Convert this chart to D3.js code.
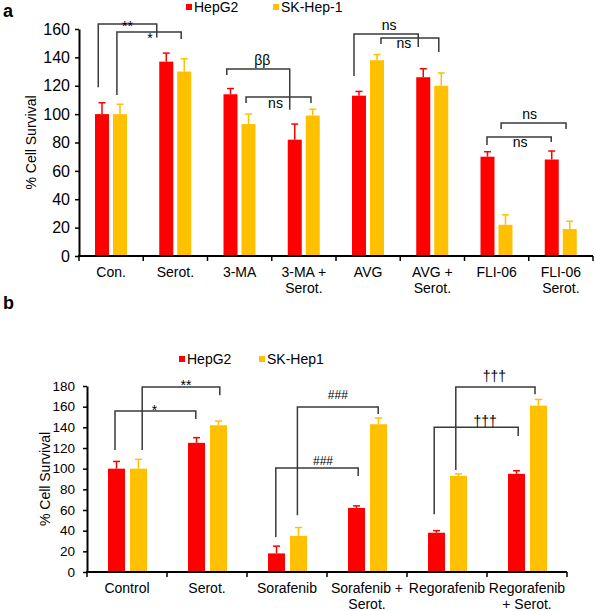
<!DOCTYPE html>
<html><head><meta charset="utf-8">
<script src="https://cdn.jsdelivr.net/npm/d3@7/dist/d3.min.js"></script>
<style>body{margin:0;background:#fff} text{font-family:"Liberation Sans",Arial,sans-serif;fill:#000}</style>
</head><body><svg id="c" width="596" height="611"></svg>
<script>
// ---------- data ----------
const colors = ["#ff0000", "#ffc000"];

// Panel a
const seriesA = ["HepG2", "SK-Hep-1"];
const catsA = ["Con.", "Serot.", "3-MA", "3-MA + Serot.", "AVG", "AVG + Serot.", "FLI-06", "FLI-06 Serot."];
const labelsA = [["Con."], ["Serot."], ["3-MA"], ["3-MA +", "Serot."], ["AVG"], ["AVG +", "Serot."], ["FLI-06"], ["FLI-06", "Serot."]];
const hepA = [100, 137, 114, 82, 113, 126, 70, 68];
const hepErrA = [8, 6, 4, 11, 3, 6, 3.5, 6];
const skA = [100, 130, 93, 99, 138, 120, 22, 19];
const skErrA = [7, 9, 7, 4.5, 4, 9, 7, 5.5];
const ticksA = [0, 20, 40, 60, 80, 100, 120, 140, 160];

// Panel b
const seriesB = ["HepG2", "SK-Hep1"];
const catsB = ["Control", "Serot.", "Sorafenib", "Sorafenib + Serot.", "Regorafenib", "Regorafenib + Serot."];
const labelsB = [["Control"], ["Serot."], ["Sorafenib"], ["Sorafenib +", "Serot."], ["Regorafenib"], ["Regorafenib", "+ Serot."]];
const hepB = [100, 125, 18, 62, 38, 95];
const hepErrB = [7, 5, 7, 2, 2, 3];
const skB = [100, 142, 35, 143, 93, 161];
const skErrB = [9, 4, 8, 6, 2, 6];
const ticksB = [0, 20, 40, 60, 80, 100, 120, 140, 160, 180];

// significance brackets: category index + fraction within band, y in data units
const bracketsA = [
  {label: "**", c1: 0, f1: 0.30, c2: 1, f2: 0.21, y: 163.5, d1: 119, d2: 154, lo: 7, ldx: 0},
  {label: "*", c1: 0, f1: 0.59, c2: 1, f2: 0.59, y: 157.9, d1: 113.5, d2: 153, lo: 11, ldx: 1},
  {label: "ββ", c1: 2, f1: 0.30, c2: 3, f2: 0.28, y: 131.8, d1: 127.6, d2: 103, lo: -4, ldx: 4},
  {label: "ns", c1: 2, f1: 0.60, c2: 3, f2: 0.61, y: 112, d1: 107.8, d2: 107.8, lo: 11, ldx: -3},
  {label: "ns", c1: 4, f1: 0.28, c2: 5, f2: 0.28, y: 156.4, d1: 126.9, d2: 147.3, lo: -4, ldx: 3},
  {label: "ns", c1: 4, f1: 0.70, c2: 5, f2: 0.60, y: 153.6, d1: 149.4, d2: 143.8, lo: 10, ldx: -6},
  {label: "ns", c1: 6, f1: 0.57, c2: 7, f2: 0.58, y: 93.7, d1: 89.5, d2: 89.5, lo: -4, ldx: -4},
  {label: "ns", c1: 6, f1: 0.35, c2: 7, f2: 0.35, y: 83.9, d1: 78.2, d2: 80.3, lo: 10, ldx: 1}
];
const bracketsB = [
  {label: "*", c1: 0, f1: 0.35, c2: 1, f2: 0.36, y: 155.8, d1: 118, d2: 148, lo: 4, ldx: -1},
  {label: "**", c1: 0, f1: 0.69, c2: 1, f2: 0.66, y: 179, d1: 118, d2: 171, lo: 3, ldx: 5},
  {label: "###", c1: 2, f1: 0.63, c2: 3, f2: 0.64, y: 159.7, d1: 55, d2: 153, lo: -8, ldx: 0},
  {label: "###", c1: 2, f1: 0.36, c2: 3, f2: 0.39, y: 100.6, d1: 33.9, d2: 92.9, lo: -3, ldx: 6},
  {label: "†††", c1: 4, f1: 0.61, c2: 5, f2: 0.60, y: 179, d1: 98.7, d2: 172, lo: -6, ldx: -1},
  {label: "†††", c1: 4, f1: 0.34, c2: 5, f2: 0.39, y: 140, d1: 56, d2: 131.6, lo: -1, ldx: 9}
];

// ---------- drawing ----------
const svg = d3.select("#c");

function panel(cfg) {
  const g = svg.append("g");
  const x = d3.scaleBand().domain(cfg.cats).range([cfg.x0, cfg.x1]).padding(0);
  const xs = d3.scaleBand().domain([0, 1]).range(cfg.inner).paddingInner(cfg.pin).paddingOuter(0);
  const y = d3.scaleLinear().domain([0, cfg.ymax]).range([cfg.y0, cfg.y1]);

  // bars
  const rows = [];
  cfg.cats.forEach((c, i) => {
    rows.push({c, s: 0, v: cfg.v0[i], e: cfg.e0[i]});
    rows.push({c, s: 1, v: cfg.v1[i], e: cfg.e1[i]});
  });
  g.selectAll("rect.bar").data(rows).join("rect")
    .attr("x", d => x(d.c) + xs(d.s))
    .attr("y", d => y(d.v))
    .attr("width", xs.bandwidth())
    .attr("height", d => y(0) - y(d.v))
    .attr("fill", d => colors[d.s]);
  // error bars
  const eg = g.selectAll("g.err").data(rows).join("g")
    .attr("stroke", d => colors[d.s]).attr("stroke-width", 1.5);
  eg.append("line")
    .attr("x1", d => x(d.c) + xs(d.s) + xs.bandwidth() / 2)
    .attr("x2", d => x(d.c) + xs(d.s) + xs.bandwidth() / 2)
    .attr("y1", d => y(d.v)).attr("y2", d => y(d.v + d.e));
  eg.append("line")
    .attr("x1", d => x(d.c) + xs(d.s) + xs.bandwidth() / 2 - 3.5)
    .attr("x2", d => x(d.c) + xs(d.s) + xs.bandwidth() / 2 + 3.5)
    .attr("y1", d => y(d.v + d.e)).attr("y2", d => y(d.v + d.e));

  // y axis
  const ya = g.append("g").attr("transform", `translate(${cfg.x0},0)`)
    .call(d3.axisLeft(y).tickValues(cfg.ticks).tickSize(4).tickSizeOuter(0).tickPadding(cfg.tpad));
  ya.select(".domain").attr("stroke", "#000").attr("stroke-width", 2);
  ya.selectAll(".tick line").attr("stroke", "#000").attr("stroke-width", 1.5);
  ya.selectAll(".tick text").attr("font-size", cfg.tfs).attr("font-family", "Liberation Sans, Arial, sans-serif").attr("fill", "#000");

  // x axis line + boundary ticks
  g.append("line").attr("x1", cfg.x0 - 1).attr("x2", cfg.x1).attr("y1", y(0)).attr("y2", y(0))
    .attr("stroke", "#000").attr("stroke-width", 2);
  const bounds = cfg.cats.map(c => x(c)).concat([cfg.x1]);
  g.selectAll("line.xt").data(bounds).join("line")
    .attr("x1", d => d).attr("x2", d => d).attr("y1", y(0)).attr("y2", y(0) + 5)
    .attr("stroke", "#000").attr("stroke-width", 1.5);
  // x labels
  cfg.cats.forEach((c, i) => {
    const t = g.append("text").attr("x", x(c) + x.bandwidth() / 2).attr("y", cfg.xly)
      .attr("text-anchor", "middle").attr("font-size", 14);
    cfg.labels[i].forEach((l, j) => {
      t.append("tspan").attr("x", x(c) + x.bandwidth() / 2).attr("dy", j === 0 ? 0 : 16).text(l);
    });
  });

  // y title
  g.append("text").attr("transform", `translate(${cfg.ytx},${(y(0) + y(cfg.ymax)) / 2}) rotate(-90)`)
    .attr("text-anchor", "middle").attr("font-size", 14).text("% Cell Survival");

  // brackets
  cfg.brackets.forEach(b => {
    const xa = x(cfg.cats[b.c1]) + x.bandwidth() * b.f1;
    const xb = x(cfg.cats[b.c2]) + x.bandwidth() * b.f2;
    g.append("path")
      .attr("d", `M${xa},${y(b.d1)}V${y(b.y)}H${xb}V${y(b.d2)}`)
      .attr("fill", "none").attr("stroke", "#3a3a3a").attr("stroke-width", 1.5);
    g.append("text").attr("x", (xa + xb) / 2 + b.ldx).attr("y", y(b.y) + b.lo)
      .attr("text-anchor", "middle").attr("font-size", b.label === "###" ? 12 : 14)
      .attr("fill", "#333").text(b.label);
  });

  // legend
  cfg.series.forEach((s, i) => {
    const lx = cfg.legX[i];
    g.append("rect").attr("x", lx).attr("y", cfg.legY - 3).attr("width", 6).attr("height", 6).attr("fill", colors[i]);
    g.append("text").attr("x", lx + 8).attr("y", cfg.legY + 5).attr("font-size", 14).text(s);
  });

  // panel letter
  g.append("text").attr("x", 3).attr("y", cfg.letY).attr("font-size", 18).attr("font-weight", "bold").text(cfg.letter);
}

panel({
  cats: catsA, labels: labelsA, v0: hepA, e0: hepErrA, v1: skA, e1: skErrA, ticks: ticksA,
  x0: 79, x1: 593, inner: [16, 48], pin: 0.222, ymax: 160, y0: 256, y1: 29,
  tpad: 5, tfs: 16, xly: 277, ytx: 36, brackets: bracketsA, series: seriesA,
  legX: [186, 273], legY: 7, letter: "a", letY: 17
});
panel({
  cats: catsB, labels: labelsB, v0: hepB, e0: hepErrB, v1: skB, e1: skErrB, ticks: ticksB,
  x0: 87, x1: 567, inner: [21, 60], pin: 0.227, ymax: 180, y0: 572, y1: 386,
  tpad: 8, tfs: 13.5, xly: 593, ytx: 50, brackets: bracketsB, series: seriesB,
  legX: [179, 259], legY: 359, letter: "b", letY: 309
});
</script></body></html>
